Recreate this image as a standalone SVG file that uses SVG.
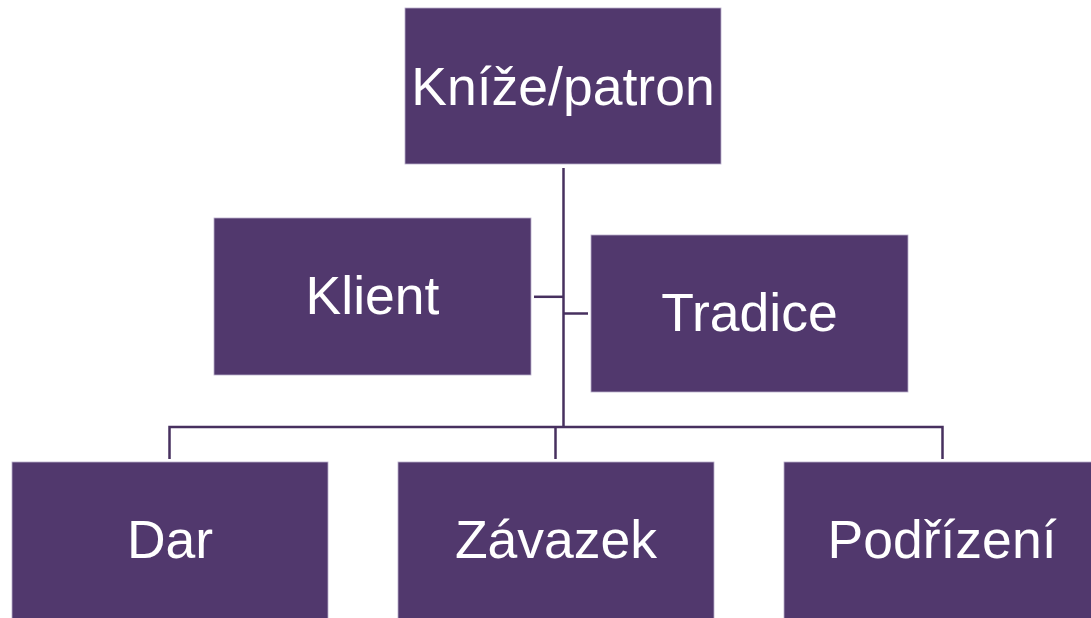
<svg xmlns="http://www.w3.org/2000/svg" width="1091" height="618" viewBox="0 0 1091 618">
<style>
.box{fill:#51386D;stroke:#B9AECB;stroke-width:0.8}
.lbl{fill:#FFFFFF;font-family:"Liberation Sans",Arial,sans-serif;font-size:53.5px;text-anchor:middle}
.con{stroke:#47305F;stroke-width:2.5;fill:none}
</style>
<rect width="1091" height="618" fill="#FFFFFF"/>
<g id="connectors">
<path class="con" d="M563.5 168 V427"/>
<path class="con" d="M534 296.8 H563.5"/>
<path class="con" d="M563.5 313.5 H588"/>
<path class="con" d="M169.5 459 V427 H942.5 V459"/>
<path class="con" d="M555.5 427 V459"/>
</g>
<g id="node-knize"><rect class="box" x="405" y="8" width="316" height="156"/><text class="lbl" x="563" y="105">Kníže/patron</text></g>
<g id="node-klient"><rect class="box" x="214" y="218" width="317" height="157"/><text class="lbl" x="372.5" y="314">Klient</text></g>
<g id="node-tradice"><rect class="box" x="591" y="235" width="317" height="157"/><text class="lbl" x="749.5" y="331">Tradice</text></g>
<g id="node-dar"><rect class="box" x="12" y="462" width="316" height="160"/><text class="lbl" x="170" y="558">Dar</text></g>
<g id="node-zavazek"><rect class="box" x="398" y="462" width="316" height="160"/><text class="lbl" x="556" y="558">Závazek</text></g>
<g id="node-podrizeni"><rect class="box" x="784" y="462" width="316" height="160"/><text class="lbl" x="942" y="558">Podřízení</text></g>
</svg>
